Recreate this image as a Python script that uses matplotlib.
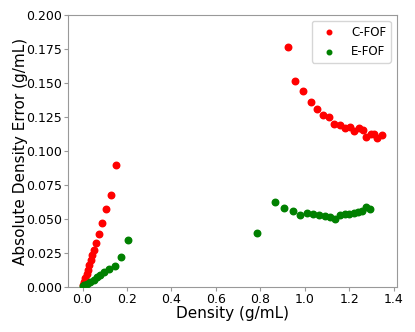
import matplotlib
matplotlib.use("Agg")
import matplotlib.pyplot as plt

# C-FOF data (density, absolute error)
cfof_density = [0.000, 0.006, 0.012, 0.018, 0.024, 0.030, 0.036, 0.042, 0.050, 0.060,
                0.072, 0.086, 0.104, 0.127, 0.150,
                0.923, 0.956, 0.994, 1.027, 1.056, 1.081, 1.110, 1.133, 1.157, 1.180,
                1.202, 1.222, 1.243, 1.261, 1.275, 1.297, 1.314, 1.326, 1.347]
cfof_error = [0.0015, 0.0039, 0.0064, 0.0096, 0.0125, 0.0162, 0.0199, 0.0236, 0.0272, 0.0322,
              0.0390, 0.0473, 0.0572, 0.0680, 0.0899,
              0.1765, 0.1512, 0.1441, 0.1362, 0.1308, 0.1264, 0.1250, 0.1195, 0.1191, 0.1171,
              0.1178, 0.1146, 0.1166, 0.1156, 0.1102, 0.1122, 0.1124, 0.1097, 0.1119]

# E-FOF data
efof_density = [0.000, 0.008, 0.020, 0.035, 0.050, 0.065, 0.080, 0.098, 0.119, 0.145,
                0.171, 0.204,
                0.787, 0.868, 0.909, 0.946, 0.979, 1.010, 1.039, 1.066, 1.092, 1.113,
                1.136, 1.157, 1.180, 1.199, 1.220, 1.238, 1.256, 1.276, 1.293]
efof_error = [0.0008, 0.0012, 0.0022, 0.0037, 0.0052, 0.0071, 0.0086, 0.0113, 0.0135, 0.0155,
              0.0223, 0.0348,
              0.0400, 0.0624, 0.0582, 0.0562, 0.0528, 0.0543, 0.0538, 0.0528, 0.0521, 0.0518,
              0.0501, 0.0528, 0.0538, 0.0535, 0.0547, 0.0552, 0.0562, 0.0589, 0.0577]

fig = plt.figure(figsize=(4.15, 3.32), dpi=100)
ax = fig.add_axes([0.163, 0.1355, 0.793, 0.8195])

ax.scatter(cfof_density, cfof_error, s=22, color="red", label="C-FOF", zorder=3)
ax.scatter(efof_density, efof_error, s=22, color="green", label="E-FOF", zorder=3)

ax.set_ylim(0, 0.2)
ax.set_yticks([0.0, 0.025, 0.05, 0.075, 0.1, 0.125, 0.15, 0.175, 0.2])
ax.set_xticks([0.0, 0.2, 0.4, 0.6, 0.8, 1.0, 1.2, 1.4])
ax.yaxis.set_major_formatter(matplotlib.ticker.FormatStrFormatter("%.3f"))
ax.xaxis.set_major_formatter(matplotlib.ticker.FormatStrFormatter("%.1f"))

for sp in ax.spines.values():
    sp.set_color("#999999")
ax.tick_params(labelsize=9, colors="#999999", labelcolor="black", length=3, pad=1)

ax.set_xlabel("Density (g/mL)", fontsize=11, labelpad=0)
ax.set_ylabel("Absolute Density Error (g/mL)", fontsize=11)
ax.yaxis.set_label_coords(-0.12, 0.5)

leg = ax.legend(loc="upper right", fontsize=8.5, markerscale=0.7, handletextpad=0.9,
                borderpad=0.4, labelspacing=0.55)
leg.get_frame().set_edgecolor("#cccccc")

fig.savefig("out.png", dpi=100)
